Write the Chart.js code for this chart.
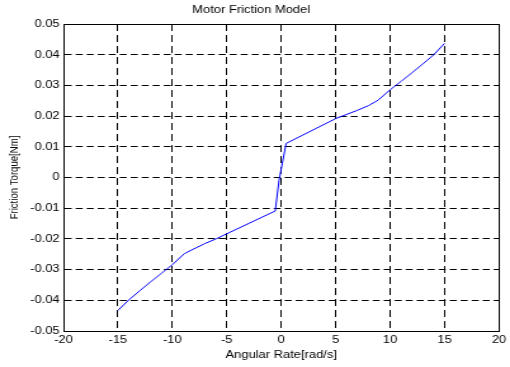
<!DOCTYPE html>
<html>
<head>
<meta charset="utf-8">
<script src="https://cdn.jsdelivr.net/npm/chart.js@4/dist/chart.umd.min.js"></script>
<style>
  html, body { margin: 0; padding: 0; background: #fff; overflow: hidden; }
  /* the figure is laid out on a narrower canvas and stretched to full width */
  #wrap { width: 402px; height: 367px; transform: scaleX(1.2687); transform-origin: 0 0; }
  canvas { display: block; }
</style>
</head>
<body>
<div id="wrap"><canvas id="c" width="402" height="367"></canvas></div>
<script>
// Angular rate [rad/s] and the matching friction torque [Nm]
const rate = [-15, -14, -13, -12, -11, -10, -8.9, -8, -7, -6, -0.55, -0.2, 0.45, 5, 7, 8, 8.9, 10, 11, 12, 13, 14, 15];
const torque = [-0.0433, -0.0399, -0.0369, -0.0340, -0.0312, -0.0284, -0.0248, -0.0232, -0.0215, -0.0200, -0.0109, -0.0009,
                0.0111, 0.0192, 0.0219, 0.0234, 0.0252, 0.0286, 0.0313, 0.0341, 0.0370, 0.0400, 0.0437];

const xTicks = [-20, -15, -10, -5, 0, 5, 10, 15, 20];
const xTickLabels = ['-20', '-15', '-10', '-5', '0', '5', '10', '15', '20'];
const yTicks = [-0.05, -0.04, -0.03, -0.02, -0.01, 0, 0.01, 0.02, 0.03, 0.04, 0.05];
const yTickLabels = ['-0.05', '-0.04', '-0.03', '-0.02', '-0.01', '0', '0.01', '0.02', '0.03', '0.04', '0.05'];

const FAMILY = '"Liberation Sans", Arial, sans-serif';
const FONT = { family: FAMILY, size: 10.2 };
const SX = 1.2687; // horizontal stretch applied to the canvas

// solid frame round the plot area
const frame = {
  id: 'frame',
  afterDraw(chart) {
    const a = chart.chartArea, ctx = chart.ctx;
    ctx.save();
    ctx.strokeStyle = '#000';
    ctx.lineWidth = 1;
    ctx.strokeRect(Math.round(a.left) + 0.5, Math.round(a.top) + 0.5,
                   Math.round(a.right - a.left), Math.round(a.bottom - a.top));
    ctx.restore();
  }
};

new Chart(document.getElementById('c'), {
  type: 'scatter',
  data: {
    datasets: [{
      data: rate.map((r, i) => ({ x: r, y: torque[i] })),
      showLine: true,
      borderColor: '#0000ff',
      borderWidth: 1,
      pointRadius: 0,
      tension: 0,
      fill: false
    }]
  },
  options: {
    responsive: false,
    animation: false,
    devicePixelRatio: 1,
    layout: { padding: { left: 0, right: 6, top: 0, bottom: 0 } },
    plugins: {
      legend: { display: false },
      tooltip: { enabled: false },
      title: {
        display: true,
        text: 'Motor Friction Model',
        color: '#000',
        font: { ...FONT, weight: 'normal' },
        padding: { top: 4, bottom: 7.8 }
      }
    },
    scales: {
      x: {
        type: 'linear',
        min: -20, max: 20,
        afterFit(s) { s.height = 36; },
        afterBuildTicks(s) { s.ticks = xTicks.map(v => ({ value: v })); },
        ticks: {
          color: '#000', font: FONT, padding: 3, maxRotation: 0, autoSkip: false,
          callback: (v) => xTickLabels[xTicks.indexOf(v)]
        },
        grid: { color: '#000', lineWidth: 1, drawTicks: false },
        border: { display: true, color: '#000', width: 1, dash: [7, 4] },
        title: {
          display: true, text: 'Angular Rate[rad/s]', color: '#000', font: FONT,
          padding: { top: 0, bottom: 5.9 }
        }
      },
      y: {
        type: 'linear',
        min: -0.05, max: 0.05,
        afterFit(s) { s.width = 50; },
        afterBuildTicks(s) { s.ticks = yTicks.map(v => ({ value: v })); },
        ticks: {
          color: '#000', font: FONT, padding: 3, autoSkip: false,
          callback: (v) => yTickLabels[yTicks.findIndex(t => Math.abs(t - v) < 1e-9)]
        },
        grid: { color: '#000', lineWidth: 1, drawTicks: false },
        border: { display: true, color: '#000', width: 1, dash: [7 / SX, 4 / SX] },
        title: {
          display: true, text: 'Friction Torque[Nm]', color: '#000',
          font: { family: FAMILY, size: 9.6 },
          padding: { top: 6, bottom: 0 }
        }
      }
    }
  },
  plugins: [frame]
});
</script>
</body>
</html>
